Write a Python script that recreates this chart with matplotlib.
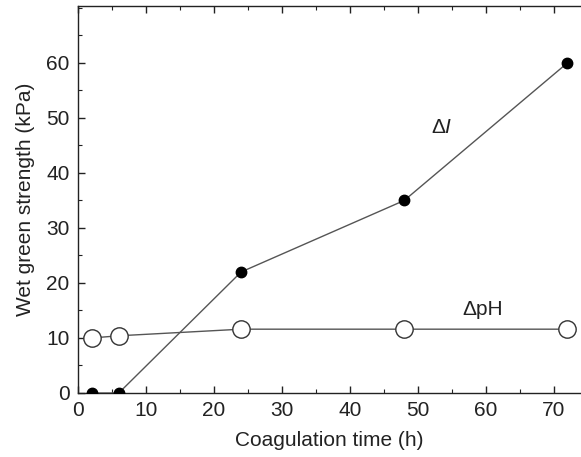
import matplotlib
matplotlib.use("Agg")
import matplotlib.pyplot as plt
from matplotlib.ticker import MultipleLocator

plt.rcParams['font.family'] = ['Liberation Sans', 'DejaVu Sans']
plt.rcParams['mathtext.fontset'] = 'custom'
plt.rcParams['mathtext.rm'] = 'Liberation Sans'
plt.rcParams['mathtext.it'] = 'Liberation Sans:italic'

time_I = [2, 6, 24, 48, 72]
strength_I = [0, 0, 22, 35, 60]
time_pH = [2, 6, 24, 48, 72]
strength_pH = [10, 10.4, 11.6, 11.6, 11.6]

fig = plt.figure(figsize=(5.81, 4.57), dpi=100)
ax = fig.add_axes([78/581, 64/457, 1 - 78/581, (393 - 5.7)/457])

ax.plot(time_I, strength_I, color='#555555', lw=1.0, marker='o', ms=7.5,
        mfc='black', mec='black', zorder=3)
ax.plot(time_pH, strength_pH, color='#555555', lw=1.0, marker='o', ms=12.5,
        mfc='white', mec='#333333', mew=1.0, zorder=3)

ax.set_xlim(0, 74)
ax.set_ylim(0, 70.4)
ax.xaxis.set_major_locator(MultipleLocator(10))
ax.xaxis.set_minor_locator(MultipleLocator(5))
ax.yaxis.set_major_locator(MultipleLocator(10))
ax.yaxis.set_minor_locator(MultipleLocator(5))
ax.set_yticks([0, 10, 20, 30, 40, 50, 60])

ax.spines['right'].set_visible(False)
for s in ['left', 'bottom', 'top']:
    ax.spines[s].set_linewidth(1.0)
    ax.spines[s].set_color('#222222')

ax.tick_params(which='both', direction='in', top=True, right=False,
               labelsize=15, colors='#222222')
ax.tick_params(which='major', length=5, width=1, pad=6)
ax.tick_params(which='minor', length=3, width=0.8)

ax.set_xlabel('Coagulation time (h)', fontsize=15, labelpad=8, color='#222222')
ax.set_ylabel('Wet green strength (kPa)', fontsize=15, labelpad=8, color='#222222')

ax.text(53.5, 48.2, r'$\Delta\mathit{I}$', fontsize=15, ha='center', va='center',
        color='#222222')
ax.text(59.5, 15.1, 'ΔpH', fontsize=15, ha='center', va='center', color='#222222')

fig.savefig('out.png', dpi=100)
